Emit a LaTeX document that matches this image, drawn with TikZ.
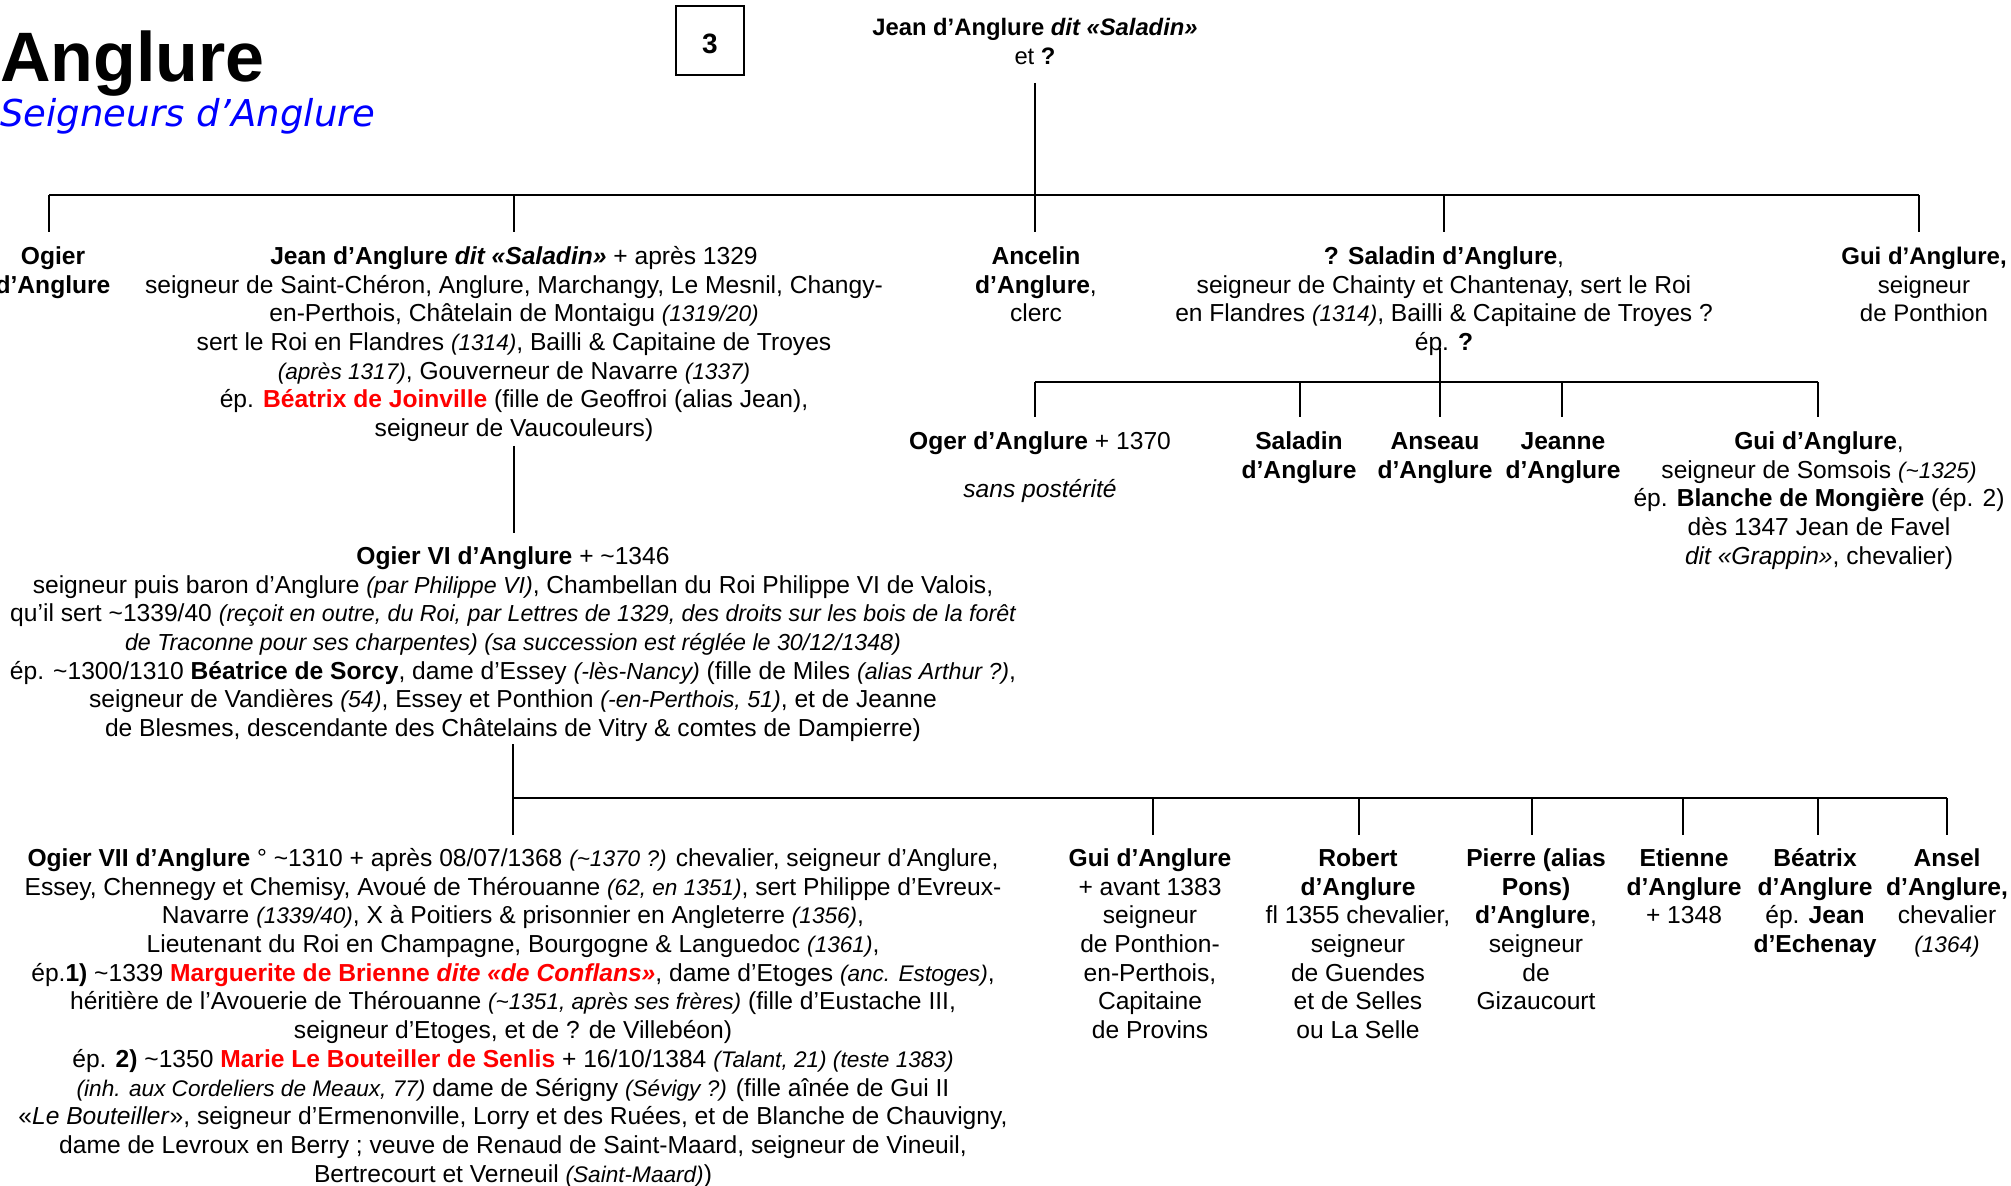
\documentclass[tikz,border=0pt]{standalone}
\usepackage{fontspec}
\setmainfont{Liberation Sans}
\newfontfamily\subfont[Ligatures=TeX]{DejaVu Sans}
\newcommand{\tld}{\textasciitilde}
\newcommand{\sm}[1]{{\fontsize{11.3}{14.35}\selectfont\itshape #1}}
\newcommand{\smb}[1]{{\fontsize{11.6}{14.35}\selectfont\itshape #1}}
\newcommand{\rb}[1]{\textcolor{red}{\textbf{#1}}}
\begin{document}
\begin{tikzpicture}[x=0.5pt,y=-0.5pt,
  every node/.style={font=\fontsize{12.3}{14.35}\selectfont, inner sep=0pt, align=center, anchor=north},
  hbar/.style={line width=1.25pt},
  vbar/.style={line width=1pt}]
\useasboundingbox[fill=white] (0,0) rectangle (2011,1186);

% title
\node[anchor=base west, font=\fontsize{35}{40}\selectfont\bfseries] (title) at (0,82) {Anglure};
\node[anchor=base west, font=\fontsize{18.5}{22}\selectfont\subfont\itshape, text=blue] (subtitle) at (0,127) {Seigneurs d’Anglure};
\node[draw, line width=0.6pt, minimum width=34pt, minimum height=34.5pt, anchor=center] (box) at (710,40.5) {};
\node[anchor=center, font=\fontsize{14}{16}\selectfont\bfseries] (boxnum) at (710,44) {3};

% top parent
\node[font=\fontsize{11.9}{14.35}\selectfont] (top) at (1035,15) {\strut\textbf{Jean d'Anglure \textit{dit «Saladin»}}\\et \textbf{?}};

% generation 1
\coordinate (p0) at (1035,83);
\coordinate (b1L) at (49,195);
\coordinate (b1R) at (1919,195);
\coordinate (b1) at (1035,195);
\coordinate (d1a) at (49,232);
\coordinate (d1b) at (514,232);
\coordinate (d1c) at (1035,232);
\coordinate (d1d) at (1444,232);
\coordinate (d1e) at (1919,232);

\node (ogier1) at (53,244) {\strut\textbf{Ogier}\\\textbf{d'Anglure}};
\node (jean1) at (514,244) {\strut\textbf{Jean d'Anglure \textit{dit «Saladin»}} + après 1329\\
seigneur de Saint-Chéron, Anglure, Marchangy, Le Mesnil, Changy-\\
en-Perthois, Châtelain de Montaigu \sm{(1319/20)}\\
sert le Roi en Flandres \sm{(1314)}, Bailli \& Capitaine de Troyes\\
\sm{(après 1317)}, Gouverneur de Navarre \sm{(1337)}\\
ép. \rb{Béatrix de Joinville} (fille de Geoffroi (alias Jean),\\
seigneur de Vaucouleurs)};
\node (ancelin) at (1036,244) {\strut\textbf{Ancelin}\\\textbf{d'Anglure},\\clerc};
\node (saladin1) at (1444,244) {\strut\textbf{? Saladin d'Anglure},\\
seigneur de Chainty et Chantenay, sert le Roi\\
en Flandres \sm{(1314)}, Bailli \& Capitaine de Troyes ?\\
ép. \textbf{?}};
\node[font=\fontsize{12}{14.35}\selectfont] (gui1) at (1924,244) {\strut\textbf{Gui d'Anglure,}\\seigneur\\de Ponthion};

\draw[vbar] (p0) -- (b1);
\draw[hbar] (b1L) -- (b1R);
\foreach \d in {d1a,d1b,d1c,d1d,d1e} \draw[vbar] (\d |- b1) -- (\d);

% Saladin's children
\coordinate (s0) at (1440,348);
\coordinate (b2L) at (1035,382);
\coordinate (b2R) at (1818,382);
\coordinate (b2) at (1440,382);
\coordinate (d2a) at (1035,417);
\coordinate (d2b) at (1300,417);
\coordinate (d2c) at (1440,417);
\coordinate (d2d) at (1562,417);
\coordinate (d2e) at (1818,417);
\draw[vbar] (s0) -- (b2);
\draw[hbar] (b2L) -- (b2R);
\foreach \d in {d2a,d2b,d2c,d2d,d2e} \draw[vbar] (\d |- b2) -- (\d);

\node (oger) at (1040,429) {\strut\textbf{Oger d'Anglure} + 1370\\[9.6pt]\textit{sans postérité}};
\node (saladin2) at (1299,429) {\strut\textbf{Saladin}\\\textbf{d'Anglure}};
\node (anseau) at (1435,429) {\strut\textbf{Anseau}\\\textbf{d'Anglure}};
\node (jeanne) at (1563,429) {\strut\textbf{Jeanne}\\\textbf{d'Anglure}};
\node (gui2) at (1819,429) {\strut\textbf{Gui d'Anglure},\\
seigneur de Somsois \sm{(\tld1325)}\\
ép. \textbf{Blanche de Mongière} (ép. 2)\\
dès 1347 Jean de Favel\\
\textit{dit «Grappin»}, chevalier)};

% Jean -> Ogier VI
\coordinate (j0) at (514,446);
\coordinate (j1) at (514,533);
\draw[vbar] (j0) -- (j1);

\node (ogier6) at (513,544) {\strut\textbf{Ogier VI d'Anglure} + \tld1346\\
seigneur puis baron d'Anglure \smb{(par Philippe VI)}, Chambellan du Roi Philippe VI de Valois,\\
qu'il sert \tld1339/40 \smb{(reçoit en outre, du Roi, par Lettres de 1329, des droits sur les bois de la forêt}\\
\smb{de Traconne pour ses charpentes) (sa succession est réglée le 30/12/1348)}\\
ép. \tld1300/1310 \textbf{Béatrice de Sorcy}, dame d'Essey \smb{(-lès-Nancy)} (fille de Miles \smb{(alias Arthur ?)},\\
seigneur de Vandières \smb{(54)}, Essey et Ponthion \smb{(-en-Perthois, 51)}, et de Jeanne\\
de Blesmes, descendante des Châtelains de Vitry \& comtes de Dampierre)};

% Ogier VI children
\coordinate (o0) at (513,744);
\coordinate (b3L) at (513,798);
\coordinate (b3R) at (1947,798);
\coordinate (d3o) at (513,835);
\coordinate (d3a) at (1153,835);
\coordinate (d3b) at (1359,835);
\coordinate (d3c) at (1532,835);
\coordinate (d3d) at (1683,835);
\coordinate (d3e) at (1818,835);
\coordinate (d3f) at (1947,835);
\draw[vbar] (o0) -- (d3o);
\draw[hbar] (b3L) -- (b3R);
\foreach \d in {d3a,d3b,d3c,d3d,d3e,d3f} \draw[vbar] (\d |- b3L) -- (\d);

\node (ogier7) at (513,846) {\strut\textbf{Ogier VII d'Anglure} ° \tld1310 + après 08/07/1368 \sm{(\tld1370 ?)} chevalier, seigneur d'Anglure,\\
Essey, Chennegy et Chemisy, Avoué de Thérouanne \sm{(62, en 1351)}, sert Philippe d'Evreux-\\
Navarre \sm{(1339/40)}, X à Poitiers \& prisonnier en Angleterre \sm{(1356)},\\
Lieutenant du Roi en Champagne, Bourgogne \& Languedoc \sm{(1361)},\\
ép.\textbf{1)} \tld1339 \rb{Marguerite de Brienne \textit{dite «de Conflans»}}, dame d'Etoges \sm{(anc. Estoges)},\\
héritière de l'Avouerie de Thérouanne \sm{(\tld1351, après ses frères)} (fille d'Eustache III,\\
seigneur d'Etoges, et de ? de Villebéon)\\
ép. \textbf{2)} \tld1350 \rb{Marie Le Bouteiller de Senlis} + 16/10/1384 \sm{(Talant, 21) (teste 1383)}\\
\sm{(inh. aux Cordeliers de Meaux, 77)} dame de Sérigny \sm{(Sévigy ?)} (fille aînée de Gui II\\
«\textit{Le Bouteiller}», seigneur d'Ermenonville, Lorry et des Ruées, et de Blanche de Chauvigny,\\
dame de Levroux en Berry ; veuve de Renaud de Saint-Maard, seigneur de Vineuil,\\
Bertrecourt et Verneuil \sm{(Saint-Maard)})};

\node (gui3) at (1150,846) {\strut\textbf{Gui d'Anglure}\\+ avant 1383\\seigneur\\de Ponthion-\\en-Perthois,\\Capitaine\\de Provins};
\node (robert) at (1358,846) {\strut\textbf{Robert}\\\textbf{d'Anglure}\\fl 1355 chevalier,\\seigneur\\de Guendes\\et de Selles\\ou La Selle};
\node (pierre) at (1536,846) {\strut\textbf{Pierre (alias}\\\textbf{Pons)}\\\textbf{d'Anglure},\\seigneur\\de\\Gizaucourt};
\node (etienne) at (1684,846) {\strut\textbf{Etienne}\\\textbf{d'Anglure}\\+ 1348};
\node (beatrix) at (1815,846) {\strut\textbf{Béatrix}\\\textbf{d'Anglure}\\ép. \textbf{Jean}\\\textbf{d'Echenay}};
\node (ansel) at (1947,846) {\strut\textbf{Ansel}\\\textbf{d'Anglure,}\\chevalier\\\sm{(1364)}};
\end{tikzpicture}
\end{document}
